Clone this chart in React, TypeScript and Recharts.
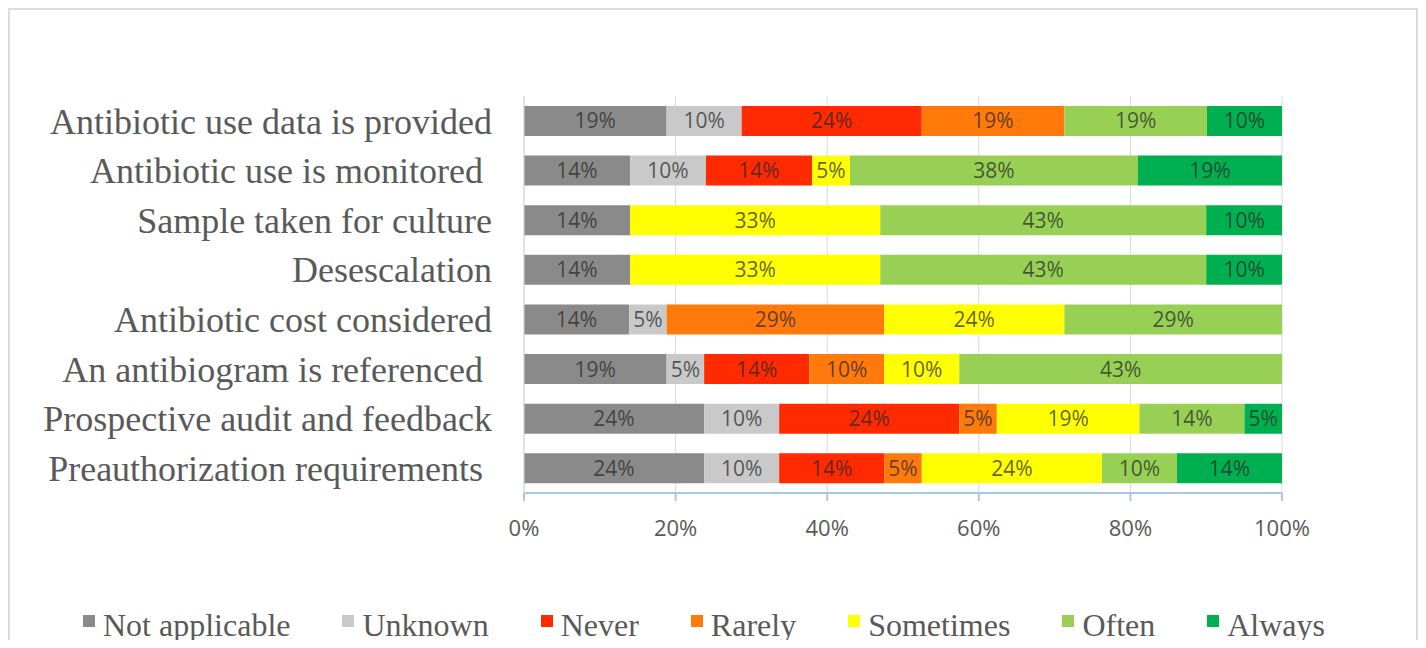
import React from "react";
import {
  BarChart,
  Bar,
  XAxis,
  YAxis,
  CartesianGrid,
  LabelList,
} from "recharts";

const categories = [
  "Antibiotic use data is provided",
  "Antibiotic use is monitored\u00a0",
  "Sample taken for culture",
  "Desescalation",
  "Antibiotic cost considered",
  "An antibiogram is referenced\u00a0",
  "Prospective audit and feedback",
  "Preauthorization requirements\u00a0",
];

const notApplicable = [19, 14, 14, 14, 14, 19, 24, 24];
const unknown = [10, 10, 0, 0, 5, 5, 10, 10];
const never = [24, 14, 0, 0, 0, 14, 24, 14];
const rarely = [19, 0, 0, 0, 29, 10, 5, 5];
const sometimes = [0, 5, 33, 33, 24, 10, 19, 24];
const often = [19, 38, 43, 43, 29, 43, 14, 10];
const always = [10, 19, 10, 10, 0, 0, 5, 14];

const xTicks = [0, 0.2, 0.4, 0.6, 0.8, 1];

const series = [
  { key: "na", name: "Not applicable", values: notApplicable, color: "#8a8a8a" },
  { key: "unknown", name: "Unknown", values: unknown, color: "#c9c9c9" },
  { key: "never", name: "Never", values: never, color: "#ff2a00" },
  { key: "rarely", name: "Rarely", values: rarely, color: "#ff7a0a" },
  { key: "sometimes", name: "Sometimes", values: sometimes, color: "#ffff00" },
  { key: "often", name: "Often", values: often, color: "#97d055" },
  { key: "always", name: "Always", values: always, color: "#00b050" },
];

const data = categories.map((name, i) => {
  const row: Record<string, string | number> = { name };
  series.forEach((s) => {
    row[s.key] = s.values[i];
  });
  return row;
});

const serif = "'Liberation Serif', 'Times New Roman', serif";
const sans = "'Open Sans', 'Liberation Sans', sans-serif";

function ChartLegend() {
  return (
    <div
      style={{
        position: "absolute",
        left: 0,
        top: 601,
        width: "100%",
        display: "flex",
        justifyContent: "center",
        gap: 52,
        fontFamily: serif,
        fontSize: 32,
        lineHeight: "28px",
        color: "#595959",
        paddingRight: 18,
        boxSizing: "border-box",
      }}
    >
      {series.map((s) => (
        <div key={s.key} style={{ display: "flex", alignItems: "flex-start" }}>
          <span
            style={{
              width: 12,
              height: 12,
              background: s.color,
              marginTop: 4,
              marginRight: 8,
            }}
          />
          <span>{s.name}</span>
        </div>
      ))}
    </div>
  );
}

export default function App() {
  return (
    <div
      style={{
        position: "relative",
        width: 1410,
        height: 632,
        border: "2px solid #dcdcdc",
        borderBottom: "none",
        boxSizing: "border-box",
        background: "#fff",
      }}
    >
      <BarChart
        width={1406}
        height={630}
        data={data}
        layout="vertical"
        stackOffset="expand"
        barCategoryGap="20%"
        margin={{ top: 86, right: 134, bottom: 87, left: 0 }}
      >
        <CartesianGrid horizontal={false} stroke="#d9d9d9" />
        <XAxis
          type="number"
          domain={[0, 1]}
          ticks={xTicks}
          tickFormatter={(v: number) => `${Math.round(v * 100)}%`}
          axisLine={{ stroke: "#a9c6e6", strokeWidth: 2 }}
          tickLine={{ stroke: "#a9c6e6", strokeWidth: 2 }}
          tickSize={8}
          tickMargin={19}
          height={60}
          tick={{ fontSize: 22, fill: "#595959", fontFamily: sans }}
        />
        <YAxis
          type="category"
          dataKey="name"
          width={514}
          axisLine={{ stroke: "#d9d9d9" }}
          tickLine={false}
          tickSize={0}
          tickMargin={32}
          interval={0}
          tick={{ fontSize: 36, fill: "#595959", fontFamily: serif }}
        />
        {series.map((s) => (
          <Bar
            key={s.key}
            dataKey={s.key}
            name={s.name}
            stackId="a"
            fill={s.color}
            isAnimationActive={false}
          >
            <LabelList
              dataKey={s.key}
              position="center"
              formatter={(v: number) => (v ? `${v}%` : "")}
              style={{
                fontSize: 21,
                fontFamily: sans,
                fill: "#262626",
                fillOpacity: 0.72,
              }}
            />
          </Bar>
        ))}
      </BarChart>
      <ChartLegend />
    </div>
  );
}
